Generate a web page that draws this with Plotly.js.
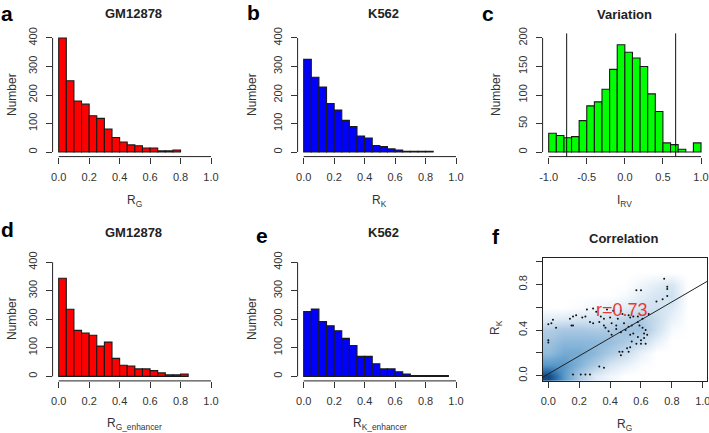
<!DOCTYPE html>
<html>
<head>
<meta charset="utf-8">
<script src="https://cdn.plot.ly/plotly-3.0.1.min.js"></script>
<style>html,body{margin:0;padding:0;background:#fff;}#chart{width:709px;height:433px;}</style>
</head>
<body>
<div id="chart"></div>
<script>
// ---------- DATA ----------
const binsA = [0,0.05,0.1,0.15,0.2,0.25,0.3,0.35,0.4,0.45,0.5,0.55,0.6,0.65,0.7,0.75];
const countsA = [400,250,179,168,127,118,81,51,35,25,22,14,14,4,4,7];

const binsB = [0,0.05,0.1,0.15,0.2,0.25,0.3,0.35,0.4,0.45,0.5,0.55,0.6,0.65,0.7,0.75,0.8];
const countsB = [325,262,228,170,147,111,89,56,49,23,19,11,7,3,3,3,3];

const binsC = [-1.0,-0.9,-0.8,-0.7,-0.6,-0.5,-0.4,-0.3,-0.2,-0.1,0,0.1,0.2,0.3,0.4,0.5,0.6,0.7,0.8,0.9];
const countsC = [33,29,25,27,55,81,88,110,145,188,175,165,150,102,71,16,13,5,0,16];
const cutoffsC = [-0.764, 0.667];

const binsD = [0,0.05,0.1,0.15,0.2,0.25,0.3,0.35,0.4,0.45,0.5,0.55,0.6,0.65,0.7,0.75,0.8];
const countsD = [344,235,161,152,144,106,120,63,39,36,26,26,20,12,5,5,8];

const binsE = [0,0.05,0.1,0.15,0.2,0.25,0.3,0.35,0.4,0.45,0.5,0.55,0.6,0.65,0.7,0.75,0.8,0.85,0.9];
const countsE = [227,236,192,177,160,133,108,70,70,44,26,26,16,8,3,3,3,3,3];

// Correlation panel: smoothed density grid (estimated) and outlying points
const densX = [0,0.1,0.2,0.3,0.4,0.5,0.6,0.7,0.8,0.9];
const densY = [0,0.1,0.2,0.3,0.4,0.5,0.6,0.7,0.8,0.9,1.0];
const densZ = [
  [0.95,0.60,0.30,0.12,0.05,0.00,0.00,0.00,0.00,0.00],
  [0.60,0.60,0.45,0.30,0.15,0.08,0.02,0.00,0.00,0.00],
  [0.40,0.50,0.50,0.42,0.30,0.20,0.08,0.00,0.00,0.00],
  [0.35,0.42,0.42,0.42,0.38,0.30,0.22,0.08,0.00,0.00],
  [0.28,0.32,0.32,0.30,0.30,0.35,0.35,0.18,0.03,0.00],
  [0.10,0.12,0.15,0.15,0.18,0.25,0.30,0.20,0.08,0.00],
  [0.00,0.00,0.02,0.05,0.08,0.10,0.15,0.18,0.12,0.00],
  [0.00,0.00,0.00,0.00,0.00,0.03,0.10,0.15,0.18,0.00],
  [0.00,0.00,0.00,0.00,0.00,0.00,0.05,0.10,0.15,0.00],
  [0.00,0.00,0.00,0.00,0.00,0.00,0.00,0.00,0.00,0.00],
  [0.00,0.00,0.00,0.00,0.00,0.00,0.00,0.00,0.00,0.00]
];
const pointsRG = [0.75,0.77,0.77,0.57,0.60,0.70,0.74,0.77,0.25,0.29,0.31,0.38,0.42,0.47,0.48,0.52,0.53,0.55,0.58,0.61,0.65,
  0.16,0.18,0.22,0.24,0.34,0.36,0.40,0.45,0.03,0.02,0.00,0.05,0.14,0.15,0.16,0.27,0.29,0.33,0.36,0.37,0.41,0.44,0.49,0.52,0.54,0.58,0.59,0.61,0.63,0.62,
  0.39,0.41,0.44,0.47,0.50,0.53,0.55,0.58,0.60,0.62,0.64,0.54,0.57,0.60,0.63,0.00,0.00,0.46,0.48,0.47,0.51,0.52,0.53,0.33,0.36,0.16,0.21,0.24,0.27];
const pointsRK = [0.85,0.78,0.76,0.75,0.75,0.65,0.67,0.70,0.58,0.59,0.56,0.58,0.57,0.57,0.54,0.53,0.51,0.52,0.52,0.50,0.54,
  0.52,0.53,0.51,0.52,0.52,0.50,0.51,0.50,0.49,0.46,0.45,0.42,0.50,0.44,0.44,0.47,0.46,0.47,0.44,0.42,0.46,0.44,0.46,0.43,0.44,0.47,0.44,0.42,0.40,0.37,
  0.39,0.36,0.41,0.38,0.40,0.36,0.37,0.34,0.31,0.33,0.36,0.30,0.28,0.28,0.28,0.31,0.29,0.21,0.21,0.18,0.24,0.21,0.25,0.08,0.07,0.01,0.01,0.01,0.01];
const fitIntercept = 0.015;
const fitSlope = 0.79;
const corrLabel = "r=0.73";

// ---------- LAYOUT HELPERS ----------
const W = 709, H = 433;
const px = v => v / W;
const py = v => 1 - v / H;
const colX = [[52.6,217.1],[297.6,462.1],[542.6,707.1]];
const rowY = [[33.4,156.6],[257.7,380.9]];
const dom = (c) => [px(colX[c][0]), px(colX[c][1])];
const domY = (r) => [py(rowY[r][1]), py(rowY[r][0])];

const FONT = "Liberation Sans, Arial, sans-serif";
const tickFont = {family: FONT, size: 11, color: "#333"};

function bars(bins, counts, width, color, xa, ya) {
  return {type: "bar", x: bins, y: counts, width: width, offset: 0,
    marker: {color: color, line: {color: "#1a1a1a", width: 1.1}},
    xaxis: xa, yaxis: ya, hoverinfo: "skip", showlegend: false};
}

const traces = [
  bars(binsA, countsA, 0.05, "#ff0000", "x", "y"),
  bars(binsB, countsB, 0.05, "#0000ff", "x2", "y2"),
  bars(binsC, countsC, 0.1, "#00ff00", "x3", "y3"),
  bars(binsD, countsD, 0.05, "#ff0000", "x4", "y4"),
  bars(binsE, countsE, 0.05, "#0000ff", "x5", "y5"),
  {type: "heatmap", x: densX, y: densY, z: densZ, zmin: 0, zmax: 1, zsmooth: "best",
   colorscale: [[0,"#FFFFFF"],[0.08,"#E8F1F9"],[0.2,"#C9DDEE"],[0.3,"#AECBE4"],[0.45,"#84B4D8"],[0.6,"#5A98C8"],[0.75,"#3576B0"],[0.9,"#1A5590"],[1,"#0B3A70"]],
   showscale: false, xaxis: "x6", yaxis: "y6", hoverinfo: "skip"},
  {type: "scatter", mode: "markers", x: pointsRG, y: pointsRK,
   marker: {color: "#111", size: 2}, xaxis: "x6", yaxis: "y6", hoverinfo: "skip", showlegend: false}
];

function xAxis(c, r, range, tickvals, ticktext, anchor) {
  return {domain: dom(c), range: range, anchor: anchor, showgrid: false, zeroline: false, showline: false,
    ticks: "outside", ticklen: 6, tickwidth: 1, tickcolor: "#333", tickvals: tickvals, ticktext: ticktext,
    tickfont: tickFont, ticklabelstandoff: 4, ticklabeloverflow: "allow", fixedrange: true};
}
function yAxis(r, range, tickvals, ticktext, anchor) {
  return {domain: domY(r), range: range, anchor: anchor, showgrid: false, zeroline: false, showline: false,
    ticks: "outside", ticklen: 6, tickwidth: 1, tickcolor: "#333", tickvals: tickvals, ticktext: ticktext,
    tickangle: -90, tickfont: tickFont, ticklabelstandoff: 4, ticklabeloverflow: "allow", fixedrange: true};
}

const t01 = [0,0.2,0.4,0.6,0.8,1.0], l01 = ["0.0","0.2","0.4","0.6","0.8","1.0"];
const tC = [-1,-0.5,0,0.5,1], lC = ["-1.0","-0.5","0.0","0.5","1.0"];
const tN = [0,100,200,300,400], lN = ["0","100","200","300","400"];
const tNC = [0,50,100,150,200], lNC = ["0","50","100","150","200"];
const tF = [0,0.4,0.8], lF = ["0.0","0.4","0.8"];

const layout = {
  width: W, height: H, margin: {l:0, r:0, t:0, b:0}, paper_bgcolor: "#fff", plot_bgcolor: "rgba(0,0,0,0)",
  showlegend: false, font: {family: FONT},
  xaxis:  xAxis(0,0,[-0.04,1.04], t01, l01, "y"),
  yaxis:  yAxis(0,[-16,416], tN, lN, "x"),
  xaxis2: xAxis(1,0,[-0.04,1.04], t01, l01, "y2"),
  yaxis2: yAxis(0,[-16,416], tN, lN, "x2"),
  xaxis3: xAxis(2,0,[-1.08,1.08], tC, lC, "y3"),
  yaxis3: yAxis(0,[-8,208], tNC, lNC, "x3"),
  xaxis4: xAxis(0,1,[-0.04,1.04], t01, l01, "y4"),
  yaxis4: yAxis(1,[-16,416], tN, lN, "x4"),
  xaxis5: xAxis(1,1,[-0.04,1.04], t01, l01, "y5"),
  yaxis5: yAxis(1,[-16,416], tN, lN, "x5"),
  xaxis6: Object.assign(xAxis(2,1,[-0.037,1.028], t01, l01, "y6"), {showline: true, mirror: true, linecolor: "#222", linewidth: 1}),
  yaxis6: Object.assign(yAxis(1,[-0.046,1.035], tF, lF, "x6"), {showline: true, mirror: true, linecolor: "#222", linewidth: 1,
    minor: {tick0: 0, dtick: 0.2, ticks: "outside", ticklen: 6, tickwidth: 1, tickcolor: "#333", showgrid: false}}),
  shapes: [],
  annotations: []
};

// R-style detached axis lines (from first to last tick)
function axisLines(xa, ya, xt, yt) {
  layout.shapes.push({type: "line", xref: xa, yref: ya + " domain", x0: xt[0], x1: xt[xt.length-1], y0: 0, y1: 0, line: {color: "#222", width: 1}});
  layout.shapes.push({type: "line", xref: xa + " domain", yref: ya, x0: 0, x1: 0, y0: yt[0], y1: yt[yt.length-1], line: {color: "#222", width: 1}});
}
axisLines("x","y",t01,tN);
axisLines("x2","y2",t01,tN);
axisLines("x3","y3",tC,tNC);
axisLines("x4","y4",t01,tN);
axisLines("x5","y5",t01,tN);

// cutoff lines in panel c
cutoffsC.forEach(v => layout.shapes.push({type: "line", xref: "x3", yref: "y3 domain", x0: v, x1: v, y0: 0, y1: 1, line: {color: "#111", width: 1}}));

// regression line in panel f
const fx0 = layout.xaxis6.range[0], fx1 = layout.xaxis6.range[1];
layout.shapes.push({type: "line", xref: "x6", yref: "y6", x0: fx0, x1: fx1,
  y0: fitIntercept + fitSlope * fx0, y1: fitIntercept + fitSlope * fx1, line: {color: "#222", width: 1}});

// text annotations
function ann(text, x, y, size, opts) {
  layout.annotations.push(Object.assign({text: text, x: px(x), y: py(y), xref: "paper", yref: "paper",
    showarrow: false, xanchor: "center", yanchor: "middle", font: {family: FONT, size: size, color: "#222"}}, opts || {}));
}
const letterFont = {family: FONT, size: 21, color: "#000"};
const labFont = {family: FONT, size: 12, color: "#333"};
// panel letters
ann("<b>a</b>", 7, 13, 21, {font: letterFont});
ann("<b>b</b>", 253, 12, 21, {font: letterFont});
ann("<b>c</b>", 488, 14, 21, {font: letterFont});
ann("<b>d</b>", 7, 230, 21, {font: letterFont});
ann("<b>e</b>", 262, 235, 21, {font: letterFont});
ann("<b>f</b>", 496, 236, 21, {font: letterFont});
// titles
ann("<b>GM12878</b>", 133, 14, 13);
ann("<b>K562</b>", 383, 14, 13);
ann("<b>Variation</b>", 624, 15, 13);
ann("<b>GM12878</b>", 133, 232, 13);
ann("<b>K562</b>", 383, 232, 13);
ann("<b>Correlation</b>", 623, 238, 13);
// x titles
ann("R<sub>G</sub>", 134.8, 201, 12, {font: labFont});
ann("R<sub>K</sub>", 379.8, 201, 12, {font: labFont});
ann("I<sub>RV</sub>", 624.8, 201, 12, {font: labFont});
ann("R<sub>G_enhancer</sub>", 134.8, 424, 12, {font: labFont});
ann("R<sub>K_enhancer</sub>", 379.8, 424, 12, {font: labFont});
ann("R<sub>G</sub>", 624.8, 425, 12, {font: labFont});
// y titles
ann("Number", 12, 95, 12, {textangle: -90, font: labFont});
ann("Number", 252, 95, 12, {textangle: -90, font: labFont});
ann("Number", 496, 95, 12, {textangle: -90, font: labFont});
ann("Number", 12, 319, 12, {textangle: -90, font: labFont});
ann("Number", 252, 319, 12, {textangle: -90, font: labFont});
ann("R<sub>K</sub>", 496, 328, 12, {textangle: -90, font: labFont});
// correlation label
layout.annotations.push({text: corrLabel, x: 0.476, y: 0.575, xref: "x6", yref: "y6", showarrow: false,
  xanchor: "center", yanchor: "middle", font: {family: FONT, size: 18, color: "#e53935"}});

Plotly.newPlot("chart", traces, layout, {staticPlot: true, displayModeBar: false});
</script>
</body>
</html>
